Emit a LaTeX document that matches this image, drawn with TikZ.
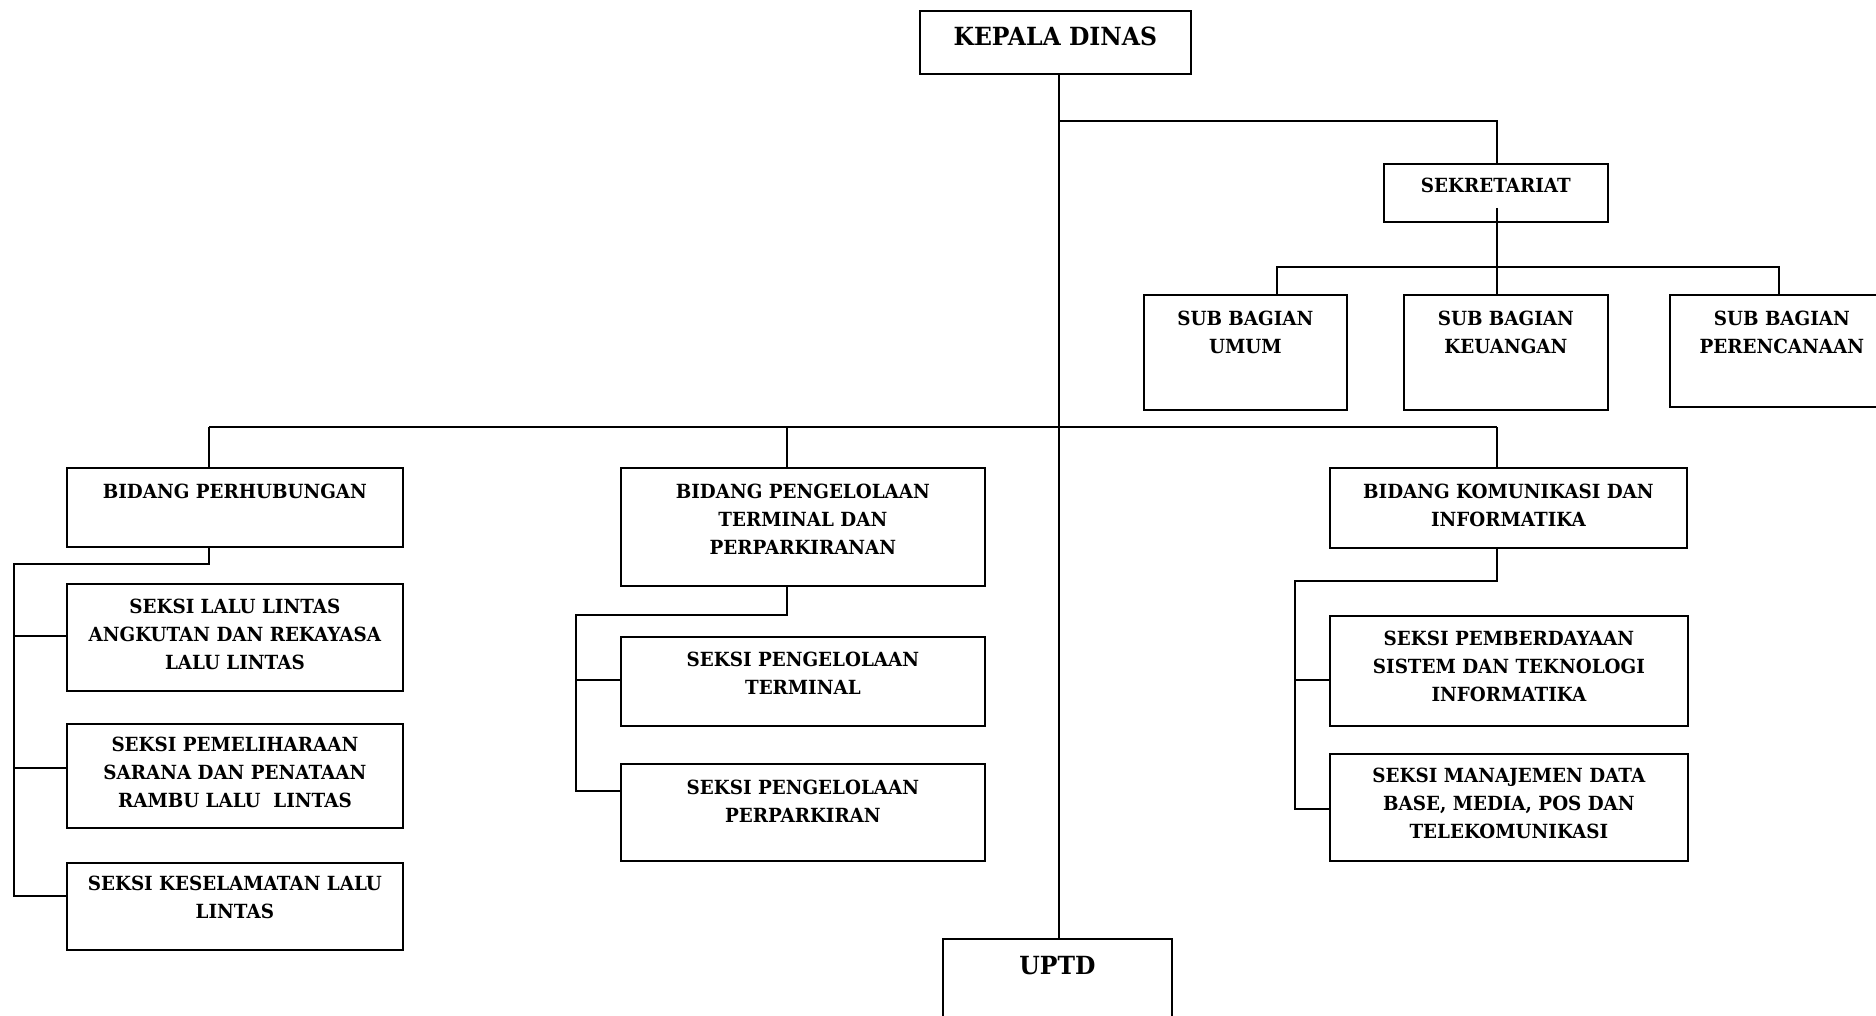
\documentclass[tikz,border=0pt]{standalone}
\usepackage{fontspec}
\setmainfont{DejaVu Serif}[FakeStretch=0.94]
\begin{document}
\begin{tikzpicture}[x=1pt,y=-1pt,
  box/.style={draw, line width=1.8pt, rectangle, inner sep=0pt, anchor=north west},
  lbl/.style={anchor=north, inner sep=0pt, align=center, font=\bfseries\fontsize{19.5}{28}\selectfont},
  big/.style={anchor=north, inner sep=0pt, align=center, font=\bfseries\fontsize{25}{30}\selectfont},
  conn/.style={line width=2pt},
  thick conn/.style={line width=2.8pt}]
\useasboundingbox (0,0) rectangle (1876,1016);
\clip (0,0) rectangle (1876,1016);
\fill[white] (0,0) rectangle (1876,1016);

% boxes
\node[box, minimum width=271pt, minimum height=63pt] (kepala) at (919,10) {};
\node[box, minimum width=224pt, minimum height=58pt] (sek) at (1383,163) {};
\node[box, minimum width=203pt, minimum height=115pt] (sbumum) at (1143,294) {};
\node[box, minimum width=204pt, minimum height=115pt] (sbkeu) at (1403,294) {};
\node[box, minimum width=224pt, minimum height=112pt] (sbper) at (1669,294) {};
\node[box, minimum width=336pt, minimum height=79pt] (bid1) at (66,467) {};
\node[box, minimum width=336pt, minimum height=107pt] (s11) at (66,583) {};
\node[box, minimum width=336pt, minimum height=104pt] (s12) at (66,723) {};
\node[box, minimum width=336pt, minimum height=87pt] (s13) at (66,862) {};
\node[box, minimum width=364pt, minimum height=118pt] (bid2) at (620,467) {};
\node[box, minimum width=364pt, minimum height=89pt] (s21) at (620,636) {};
\node[box, minimum width=364pt, minimum height=97pt] (s22) at (620,763) {};
\node[box, minimum width=357pt, minimum height=80pt] (bid3) at (1329,467) {};
\node[box, minimum width=358pt, minimum height=110pt] (s31) at (1329,615) {};
\node[box, minimum width=358pt, minimum height=107pt] (s32) at (1329,753) {};
\node[box, minimum width=229pt, minimum height=100pt] (uptd) at (942,938) {};

% labels
\node[big] (kepalat) at ([yshift=-17pt]kepala.north) {KEPALA DINAS};
\node[lbl] (sekt) at ([yshift=-15pt]sek.north) {SEKRETARIAT};
\node[lbl] (sbumumt) at ([yshift=-17pt]sbumum.north) {SUB BAGIAN\\UMUM};
\node[lbl] (sbkeut) at ([yshift=-17pt]sbkeu.north) {SUB BAGIAN\\KEUANGAN};
\node[lbl] (sbpert) at ([yshift=-17pt]sbper.north) {SUB BAGIAN\\PERENCANAAN};
\node[lbl] (bid1t) at ([yshift=-17pt]bid1.north) {BIDANG PERHUBUNGAN};
\node[lbl] (s11t) at ([yshift=-16pt]s11.north) {SEKSI LALU LINTAS\\ANGKUTAN DAN REKAYASA\\LALU LINTAS};
\node[lbl] (s12t) at ([yshift=-14pt]s12.north) {SEKSI PEMELIHARAAN\\SARANA DAN PENATAAN\\RAMBU LALU\ \ LINTAS};
\node[lbl] (s13t) at ([yshift=-14pt]s13.north) {SEKSI KESELAMATAN LALU\\LINTAS};
\node[lbl] (bid2t) at ([yshift=-17pt]bid2.north) {BIDANG PENGELOLAAN\\TERMINAL DAN\\PERPARKIRANAN};
\node[lbl] (s21t) at ([yshift=-16pt]s21.north) {SEKSI PENGELOLAAN\\TERMINAL};
\node[lbl] (s22t) at ([yshift=-17pt]s22.north) {SEKSI PENGELOLAAN\\PERPARKIRAN};
\node[lbl] (bid3t) at ([yshift=-17pt]bid3.north) {BIDANG KOMUNIKASI DAN\\INFORMATIKA};
\node[lbl] (s31t) at ([yshift=-16pt]s31.north) {SEKSI PEMBERDAYAAN\\SISTEM DAN TEKNOLOGI\\INFORMATIKA};
\node[lbl] (s32t) at ([yshift=-15pt]s32.north) {SEKSI MANAJEMEN DATA\\BASE, MEDIA, POS DAN\\TELEKOMUNIKASI};
\node[big] (uptdt) at ([yshift=-18pt]uptd.north) {UPTD};

% junction coordinates
\coordinate (trunk) at (1059,121);
\coordinate (sekx) at (1497,121);
\coordinate (sekin) at (1497,208);
\coordinate (subL) at (1277,267);
\coordinate (subR) at (1779,267);
\coordinate (bidL) at (209,427);
\coordinate (bidM) at (787,427);
\coordinate (bidR) at (1497,427);
\coordinate (b1j) at (209,564);
\coordinate (b1x) at (14,564);
\coordinate (b2j) at (787,615);
\coordinate (b2x) at (576,615);
\coordinate (b3j) at (1497,581);
\coordinate (b3x) at (1295,581);

% main trunk
\draw[conn] (kepala.south -| trunk) -- (uptd.north -| trunk);
% sekretariat
\draw[conn] (trunk) -- (sekx) -- (sek.north -| sekx);
\draw[conn] (sekin) -- (sbkeu.north -| sekin);
\draw[conn] (sbumum.north -| subL) -- (subL) -- (subR) -- (sbper.north -| subR);
% bidang bar
\draw[thick conn] (bidL) -- (bidR);
\draw[conn] (bidL) -- (bid1.north -| bidL);
\draw[conn] (bidM) -- (bid2.north -| bidM);
\draw[conn] (bidR) -- (bid3.north -| bidR);
% bidang perhubungan
\draw[conn] (bid1.south -| b1j) -- (b1j) -- (b1x) -- (b1x |- 0,896) -- (s13.west |- 0,896);
\draw[conn] (b1x |- 0,636) -- (s11.west |- 0,636);
\draw[conn] (b1x |- 0,768) -- (s12.west |- 0,768);
% bidang pengelolaan
\draw[conn] (bid2.south -| b2j) -- (b2j) -- (b2x) -- (b2x |- 0,791) -- (s22.west |- 0,791);
\draw[conn] (b2x |- 0,680) -- (s21.west |- 0,680);
% bidang komunikasi
\draw[conn] (bid3.south -| b3j) -- (b3j) -- (b3x) -- (b3x |- 0,809) -- (s32.west |- 0,809);
\draw[conn] (b3x |- 0,680) -- (s31.west |- 0,680);
\end{tikzpicture}
\end{document}
